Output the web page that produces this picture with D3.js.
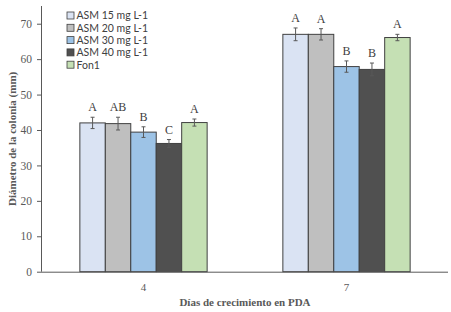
<!DOCTYPE html>
<html><head><meta charset="utf-8">
<script src="https://cdn.jsdelivr.net/npm/d3@7"></script>
<style>body{margin:0;background:#fff}svg{display:block}</style>
</head><body>
<svg id="c" width="451" height="312"></svg>
<script>
const categories = ["4", "7"];
const series = ["ASM 15 mg L-1", "ASM 20 mg L-1", "ASM 30 mg L-1", "ASM 40 mg L-1", "Fon1"];
const colors = ["#dae3f3", "#bfbfbf", "#9dc3e6", "#505050", "#c5e0b4"];
const asm15 = [42.0, 67.0];
const asm20 = [41.8, 67.0];
const asm30 = [39.4, 57.9];
const asm40 = [36.2, 57.1];
const fon1 = [42.1, 66.1];
const err15 = [1.6, 1.8];
const err20 = [1.8, 1.6];
const err30 = [1.5, 1.6];
const err40 = [1.1, 1.8];
const errF = [1.0, 0.9];
const let15 = ["A", "A"];
const let20 = ["AB", "A"];
const let30 = ["B", "B"];
const let40 = ["C", "B"];
const letF = ["A", "A"];
const yTicks = [0, 10, 20, 30, 40, 50, 60, 70];

(function () {
const values = [asm15, asm20, asm30, asm40, fon1];
const errs = [err15, err20, err30, err40, errF];
const lets = [let15, let20, let30, let40, letF];
const serif = "'Liberation Serif', serif";

const svg = d3.select("#c");
const mL = 42, mR = 448, mT = 6, mB = 271.7;
const x = d3.scaleBand().domain(categories).range([mL, mR]).paddingInner(0).paddingOuter(0);
const x1 = d3.scaleBand().domain(series).range([0, x.bandwidth() * 0.627]).padding(0);
const gOff = (x.bandwidth() - x1.range()[1]) / 2;
const y = d3.scaleLinear().domain([0, 75]).range([mB, mT]);

// y axis
const ya = svg.append("g").attr("transform", `translate(${mL},0)`)
  .call(d3.axisLeft(y).tickValues(yTicks).tickSize(5).tickPadding(5).tickFormat(d3.format("d")));
ya.select(".domain").attr("stroke", "#595959").attr("d", `M-0.5,${mT}V${mB}`);
ya.selectAll(".tick line").attr("stroke", "#595959");
ya.selectAll(".tick text").attr("fill", "#595959").style("font-family", serif).style("font-size", "11.5px");

// bars
categories.forEach((c, ci) => {
  series.forEach((s, si) => {
    const bx = x(c) + gOff + x1(s);
    const v = values[si][ci];
    svg.append("rect").attr("x", bx).attr("y", y(v)).attr("width", x1.bandwidth()).attr("height", y(0) - y(v))
      .attr("fill", colors[si]).attr("stroke", "#404040").attr("stroke-width", 1);
  });
});
// error bars & letters
categories.forEach((c, ci) => {
  series.forEach((s, si) => {
    const cx = x(c) + gOff + x1(s) + x1.bandwidth() / 2;
    const v = values[si][ci], e = errs[si][ci];
    const g = svg.append("g").attr("stroke", "#595959").attr("stroke-width", 1);
    g.append("line").attr("x1", cx).attr("x2", cx).attr("y1", y(v - e)).attr("y2", y(v + e));
    g.append("line").attr("x1", cx - 2).attr("x2", cx + 2).attr("y1", y(v - e)).attr("y2", y(v - e));
    g.append("line").attr("x1", cx - 2).attr("x2", cx + 2).attr("y1", y(v + e)).attr("y2", y(v + e));
    svg.append("text").attr("x", cx).attr("y", y(v + e) - 6).attr("text-anchor", "middle")
      .style("font-family", serif).style("font-size", "12px").attr("fill", "#404040")
      .text(lets[si][ci]);
  });
});

// x axis
svg.append("line").attr("x1", mL).attr("x2", mR).attr("y1", mB + 0.5).attr("y2", mB + 0.5).attr("stroke", "#595959");
categories.forEach(c => {
  svg.append("text").attr("x", x(c) + x.bandwidth() / 2).attr("y", 291).attr("text-anchor", "middle")
    .style("font-family", serif).style("font-size", "11px").attr("fill", "#595959").text(c);
});

// axis titles
svg.append("text").attr("x", (mL + mR) / 2).attr("y", 306).attr("text-anchor", "middle")
  .style("font-family", serif).style("font-size", "11px").style("font-weight", "bold").attr("fill", "#595959")
  .text("Días de crecimiento en PDA");
svg.append("text").attr("transform", `translate(16,${(mT + mB) / 2}) rotate(-90)`).attr("text-anchor", "middle")
  .style("font-family", serif).style("font-size", "11px").style("font-weight", "bold").attr("fill", "#595959")
  .text("Diámetro de la colonia (mm)");

// legend
const lg = svg.append("g").attr("transform", "translate(67,15.5)");
series.forEach((s, i) => {
  const r = lg.append("g").attr("transform", `translate(0,${i * 12.3})`);
  r.append("rect").attr("x", 0).attr("y", -3.5).attr("width", 7).attr("height", 7).attr("fill", colors[i]).attr("stroke", "#404040").attr("stroke-width", 0.8);
  r.append("text").attr("x", 9.5).attr("y", 3.8).style("font-family", "Lato, sans-serif").style("font-size", "10.5px").attr("fill", "#404040").text(s);
});
})();
</script>
</body></html>
